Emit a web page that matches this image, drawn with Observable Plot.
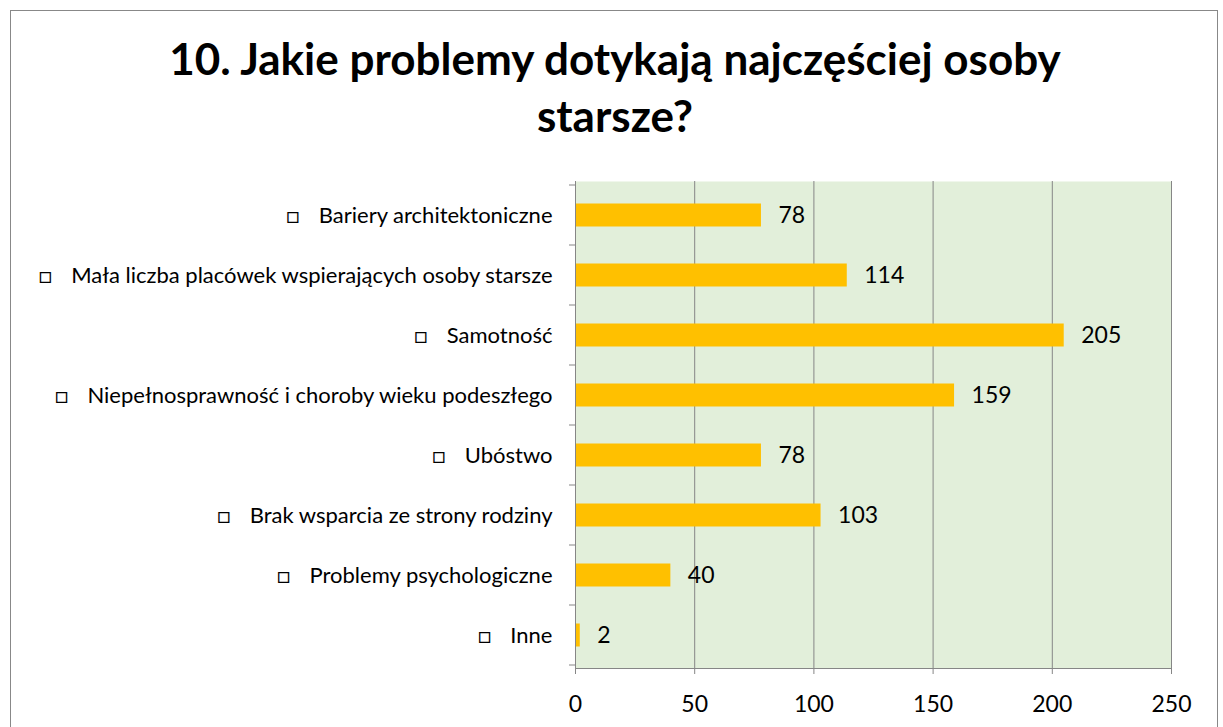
<!DOCTYPE html>
<html><head><meta charset="utf-8">
<script src="https://cdn.jsdelivr.net/npm/d3@7"></script>
<script src="https://cdn.jsdelivr.net/npm/@observablehq/plot@0.6"></script>
<style>
body{margin:0;background:#fff;font-family:Lato,sans-serif;width:1223px;height:727px;overflow:hidden;position:relative}
#frame{position:absolute;left:10px;top:10px;width:1206px;height:800px;border:1px solid #888;pointer-events:none}
#title{position:absolute;left:0;top:30px;width:1230px;text-align:center;font-weight:bold;font-size:44px;line-height:57px;color:#000}
#chart{position:absolute;left:0;top:165px}
</style></head><body>
<div id="title">10. Jakie problemy dotykają najczęściej osoby<br>starsze?</div>
<div id="chart"></div>
<div id="frame"></div>
<script>
const categories = [
  "Bariery architektoniczne",
  "Mała liczba placówek wspierających osoby starsze",
  "Samotność",
  "Niepełnosprawność i choroby wieku podeszłego",
  "Ubóstwo",
  "Brak wsparcia ze strony rodziny",
  "Problemy psychologiczne",
  "Inne"
];
const values = [78, 114, 205, 159, 78, 103, 40, 2];
const xTicks = [0, 50, 100, 150, 200, 250];
const data = categories.map((c, i) => ({cat: c, value: values[i]}));

function boundaryTicks(index, scales, vals, dimensions) {
  const y = scales.y;
  const starts = categories.map(c => y(c));
  const step = starts[1] - starts[0];
  const ys = starts.concat([starts[starts.length - 1] + step]);
  const x0 = scales.x(0);
  const g = d3.create("svg:g").attr("stroke", "#868686");
  ys.forEach(v => g.append("line").attr("x1", x0 - 6).attr("x2", x0).attr("y1", v).attr("y2", v));
  return g.node();
}

const plot = Plot.plot({
  width: 1223, height: 562,
  marginTop: 16, marginBottom: 59, marginLeft: 575, marginRight: 52,
  style: {fontFamily: "Lato, 'Liberation Sans', sans-serif", color: "#000", background: "transparent"},
  x: {domain: [0, 250]},
  y: {domain: categories, padding: 0},
  marks: [
    Plot.frame({fill: "#E2EFDA", stroke: null}),
    Plot.ruleX(xTicks.slice(1), {stroke: "#868686", strokeWidth: 1}),
    Plot.barX(data, {y: "cat", x: "value", fill: "#FFC000", insetTop: 18.5, insetBottom: 18.5}),
    Plot.text(data, {y: "cat", x: "value", text: d => String(d.value), textAnchor: "start", dx: 17, fontSize: 23, fill: "#000"}),
    Plot.axisX({ticks: xTicks, tickSize: 6, tickPadding: 21, fontSize: 23, stroke: "#868686", fill: "#000", label: null, tickFormat: d => String(d)}),
    Plot.axisY({tickSize: 0, tickPadding: 23, fontSize: 22, fill: "#000", label: null, tickFormat: d => "□\u2003\u2009" + d}),
    Plot.frame({anchor: "bottom", stroke: "#868686"}),
    Plot.frame({anchor: "left", stroke: "#868686"}),
    boundaryTicks
  ]
});
document.getElementById("chart").appendChild(plot);
</script>
</body></html>
